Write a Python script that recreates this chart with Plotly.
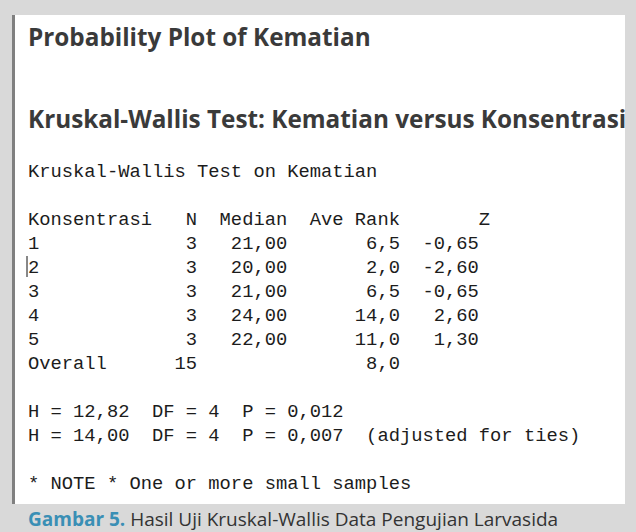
import plotly.graph_objects as go

# Minitab session output, Kruskal-Wallis test
konsentrasi = ["1", "2", "3", "4", "5"]
n_obs = [3, 3, 3, 3, 3]
median = [21.00, 20.00, 21.00, 24.00, 22.00]
ave_rank = [6.5, 2.0, 6.5, 14.0, 11.0]
z_value = [-0.65, -2.60, -0.65, 2.60, 1.30]
n_total = 15
rank_overall = 8.0
h_stat = [12.82, 14.00]
df_stat = [4, 4]
p_value = [0.012, 0.007]
h_note = ["", "  (adjusted for ties)"]

W, H = 636, 532
MONO = "Liberation Mono, Courier New, monospace"
SANS = "Open Sans, sans-serif"


def dec(v, nd):
    # Minitab with Indonesian locale uses decimal comma
    return f"{v:.{nd}f}".replace(".", ",")


def pre(s):
    # keep runs of spaces in the svg text
    return s.replace(" ", "\u00a0")


lines = ["Kruskal-Wallis Test on Kematian", ""]
lines.append(f"{'Konsentrasi':<11}   N  Median  Ave Rank       Z")
for k, n, m, r, z in zip(konsentrasi, n_obs, median, ave_rank, z_value):
    lines.append(f"{k:<13}{n:>2}{dec(m, 2):>8}{dec(r, 1):>10}{dec(z, 2):>7}")
lines.append(f"{'Overall':<13}{n_total:>2}{'':>8}{dec(rank_overall, 1):>10}")
lines.append("")
for h, d, p, note in zip(h_stat, df_stat, p_value, h_note):
    lines.append(f"H = {dec(h, 2)}  DF = {d}  P = {dec(p, 3)}{note}")
lines.append("")
lines.append("* NOTE * One or more small samples")

fig = go.Figure()

annotations = []
x_text = 26
y_first, pitch = 172, 24
for i, txt in enumerate(lines):
    if not txt:
        continue
    annotations.append(dict(
        x=x_text, y=y_first + i * pitch, text=pre(txt),
        xanchor="left", yanchor="middle", showarrow=False,
        font=dict(family=MONO, size=18.8, color="#1c1c1c"),
    ))

for txt, y in [("Probability Plot of Kematian", 36),
               ("Kruskal-Wallis Test: Kematian versus Konsentrasi", 118)]:
    annotations.append(dict(
        x=x_text, y=y, text=f"<b>{txt}</b>",
        xanchor="left", yanchor="middle", showarrow=False,
        font=dict(family=SANS, size=24.3, color="#3a3a3a"),
    ))

annotations.append(dict(
    x=x_text, y=519,
    text="<b><span style='color:#3a8fb5'>Gambar 5.</span></b> "
         "Hasil Uji Kruskal-Wallis Data Pengujian Larvasida",
    xanchor="left", yanchor="middle", showarrow=False,
    font=dict(family=SANS, size=19, color="#333333"),
))

shapes = [
    dict(type="rect", x0=15, x1=625, y0=15, y1=504, line_width=0,
         fillcolor="white", layer="below"),
    dict(type="rect", x0=12, x1=15, y0=15, y1=504, line_width=0,
         fillcolor="#808080", layer="below"),
    # text cursor left in the screenshot
    dict(type="line", x0=27, x1=27, y0=256, y1=277,
         line=dict(color="#111111", width=1)),
]

fig.update_layout(
    width=W, height=H,
    margin=dict(l=0, r=0, t=0, b=0),
    paper_bgcolor="#d9d9d9", plot_bgcolor="#d9d9d9",
    xaxis=dict(range=[0, W], visible=False, fixedrange=True),
    yaxis=dict(range=[H, 0], visible=False, fixedrange=True),
    annotations=annotations, shapes=shapes,
    showlegend=False,
)

fig.write_html(
    "out.html",
    config={"displayModeBar": False},
    post_script="document.body.style.margin='0';"
                "document.body.style.overflow='hidden';",
)
